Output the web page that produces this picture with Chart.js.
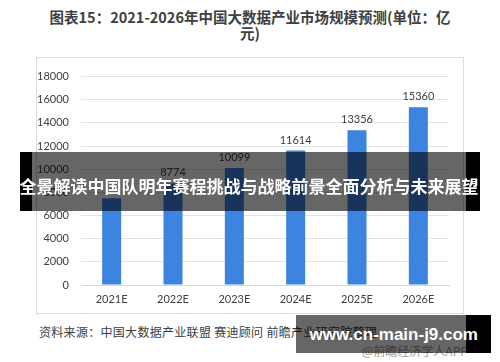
<!DOCTYPE html>
<html>
<head>
<meta charset="utf-8">
<script src="https://cdn.jsdelivr.net/npm/chart.js@4/dist/chart.umd.min.js"></script>
<style>
  html, body { margin: 0; padding: 0; background: #fff; }
  body { width: 500px; height: 362px; position: relative; overflow: hidden;
         font-family: "Noto Sans CJK SC", "Liberation Sans", sans-serif; }
  .title { position: absolute; left: 0; width: 500px; text-align: center;
           font-size: 14.5px; font-weight: bold; color: #404040; line-height: 18px; }
  #frame { position: absolute; left: 36px; top: 57px; width: 426px; height: 255px;
           border: 1px solid #dcdcdc; }
  #frame canvas { position: absolute; left: 0; top: 0; }
  .source { position: absolute; left: 39px; top: 323px; font-size: 12px; color: #404040;
            letter-spacing: 0.3px; white-space: nowrap; }
  .app { position: absolute; left: 362px; top: 342px; font-size: 12px; color: #999; white-space: nowrap; }
  .blk { position: absolute; background: #000; }
  .shade { position: absolute; background: rgba(0,0,0,0.6); }
  .banner { position: absolute; left: 0; width: 500px; text-align: center; color: #fff;
            font-weight: bold; white-space: nowrap; }
</style>
</head>
<body>
<div class="title" style="top:8px">图表15：2021-2026年中国大数据产业市场规模预测(单位：亿</div>
<div class="title" style="top:24px">元)</div>
<div id="frame"><canvas id="chart" width="426" height="255"></canvas></div>
<div class="source">资料来源：中国大数据产业联盟 赛迪顾问 前瞻产业研究院整理</div>
<div class="app">@前瞻经济学人APP</div>

<div class="blk" style="left:20px;top:152px;width:12px;height:59px"></div>
<div class="shade" style="left:32px;top:152px;width:434px;height:59px"></div>
<div class="blk" style="left:466px;top:152px;width:14px;height:59px"></div>
<div class="banner" style="top:172px;font-size:17px;line-height:28px;left:-1px">全景解读中国队明年赛程挑战与战略前景全面分析与未来展望</div>

<div class="shade" style="left:296px;top:315px;width:170px;height:38px"></div>
<div class="blk" style="left:466px;top:315px;width:25px;height:38px"></div>
<div class="banner" style="top:323px;left:296px;width:182px;text-align:right;font-family:'Liberation Sans',sans-serif;font-size:17px;line-height:24px">www.cn-main-j9.com</div>

<script>
var years = ["2021E", "2022E", "2023E", "2024E", "2025E", "2026E"];
var marketSize = [7500, 8774, 10099, 11614, 13356, 15360];
var shownLabels = ["", "8774", "10099", "11614", "13356", "15360"];

var numFont = { family: "Lato, 'Liberation Sans', sans-serif", size: 11 };

// values above the bars
var valueLabels = {
  id: "valueLabels",
  afterDatasetsDraw: function(chart) {
    var ctx = chart.ctx;
    var meta = chart.getDatasetMeta(0);
    ctx.save();
    ctx.font = "11px " + numFont.family;
    ctx.fillStyle = "#404040";
    ctx.textAlign = "center";
    ctx.textBaseline = "bottom";
    meta.data.forEach(function(bar, i) {
      if (shownLabels[i]) ctx.fillText(shownLabels[i], bar.x, bar.y - 5);
    });
    ctx.restore();
  }
};

new Chart(document.getElementById("chart"), {
  type: "bar",
  data: {
    labels: years,
    datasets: [{
      data: marketSize,
      backgroundColor: "#3D83E0",
      barPercentage: 0.31,
      categoryPercentage: 1
    }]
  },
  options: {
    responsive: false,
    animation: false,
    layout: { padding: { top: 12, right: 14, left: 0, bottom: 0 } },
    plugins: { legend: { display: false }, tooltip: { enabled: false } },
    scales: {
      x: {
        grid: { display: false, drawTicks: false },
        border: { color: "#d9d9d9" },
        ticks: { color: "#404040", font: numFont, padding: 8 },
        afterFit: function(s) { s.height = 28; }
      },
      y: {
        min: 0, max: 18000,
        ticks: {
          stepSize: 2000, color: "#404040", font: numFont, padding: 12,
          callback: function(v) { return String(v); }
        },
        grid: { color: "#e3e3e3", drawTicks: false },
        border: { display: false },
        afterFit: function(s) { s.width = 44; }
      }
    }
  },
  plugins: [valueLabels]
});
</script>
</body>
</html>
